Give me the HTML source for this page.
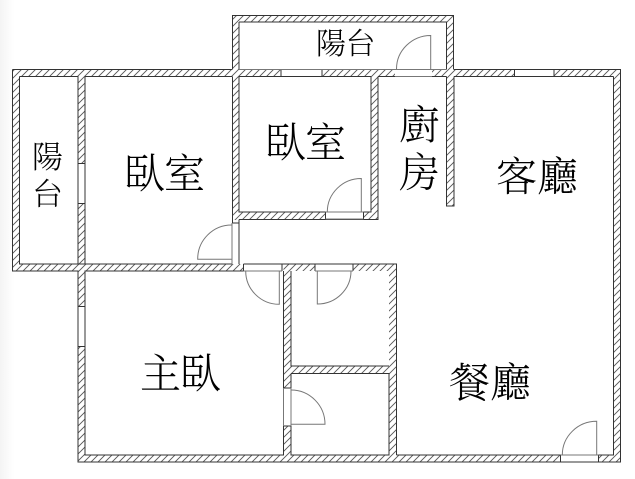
<!DOCTYPE html>
<html><head><meta charset="utf-8"><style>
html,body{margin:0;padding:0;background:#fff;width:635px;height:479px;overflow:hidden}
svg{display:block;filter:blur(.3px)}
text{font-family:"Liberation Serif","Noto Serif CJK SC","Noto Sans CJK TC",serif;fill:#000;font-weight:300}
</style></head><body>
<svg width="635" height="479" viewBox="0 0 635 479" xmlns="http://www.w3.org/2000/svg">
<defs>
<linearGradient id="g" x1="0" x2="1" y1="0" y2="0"><stop offset="0" stop-color="#f4f4f4"/><stop offset="1" stop-color="#fff"/></linearGradient>
<pattern id="h" width="7" height="7" patternUnits="userSpaceOnUse">
<rect width="7" height="7" fill="#fff"/>
<path d="M-1 1L1 -1M0 7L7 0M6 8L8 6" stroke="#555" stroke-width="0.9" fill="none"/>
</pattern>
</defs>
<rect width="635" height="479" fill="#fff"/>
<rect width="14" height="479" fill="url(#g)"/>
<g fill="url(#h)">
<rect x="12.5" y="69.5" width="608" height="7"/>
<rect x="12.5" y="69.5" width="7" height="201.5"/>
<rect x="78" y="69.5" width="7" height="392.5"/>
<rect x="232" y="15" width="7" height="205"/>
<rect x="232" y="15" width="222" height="7"/>
<rect x="446.5" y="15" width="7.5" height="191"/>
<rect x="613.5" y="69.5" width="7" height="392.5"/>
<rect x="78" y="455" width="542.5" height="7"/>
<rect x="12.5" y="264" width="231" height="7"/>
<rect x="232" y="212" width="146" height="7.5"/>
<rect x="371" y="69.5" width="7" height="150"/>
<rect x="283.5" y="264" width="113" height="7"/>
<rect x="283.5" y="264" width="7.5" height="198"/>
<rect x="389" y="264" width="7.5" height="198"/>
<rect x="291" y="366" width="98" height="7.5"/>
</g>
<!-- openings -->
<g fill="#fff" stroke="none">
<rect x="281" y="69.5" width="41" height="7"/>
<rect x="395" y="69.5" width="37" height="7"/>
<rect x="514.5" y="69.5" width="39.5" height="7"/>
<rect x="78" y="163.5" width="7" height="40"/>
<rect x="78" y="306.5" width="7" height="40"/>
<rect x="232" y="223" width="7" height="41"/>
<rect x="325.5" y="212" width="38" height="7.5"/>
<rect x="243.5" y="263.5" width="38.5" height="7.5"/>
<rect x="315" y="263.5" width="38" height="7.5"/>
<rect x="283.5" y="388" width="7.5" height="38"/>
<rect x="561" y="455" width="37.5" height="7"/>
</g>
<!-- dark lines -->
<g stroke="#333" stroke-width="1" fill="none">
<path d="M85 76.5H232M239 76.5H371M378 76.5H446.5M454 76.5H613.5"/>
<path d="M19.5 76.5V264H78V76.5H19.5M85 76.5V264H232"/>
<path d="M232.5 76.5V223"/>
<path d="M239 76.5V212H371V76.5"/>
<path d="M239 22H446.5V69.5M239 22V69.5"/>
<path d="M12.5 69.5V271H78V462H620.5V69.5H454"/>
<path d="M232.5 69.5V15.5H453.5V69.5M12.5 69.5H232"/>
<path d="M239 219.5V264M232 264H78"/>
<path d="M243.5 264H396.5V455M291 271V366H389M291 373.5H389V455H291V373.5M283.5 271V388M283.5 426V455H85V271H243.5"/>
<path d="M396.5 455H613.5V76.5"/>
<path d="M378 76.5V219.5H239M446.5 76.5V206H454V76.5"/>
<path d="M281 69.5V76.5M322 69.5V76.5M514.5 69.5V76.5M554 69.5V76.5M78 163.5H85M78 203.5H85M78 306.5H85M78 346.5H85"/>
<path d="M232.5 223H239M243.5 264V271M282 264V271M315 264V271M353 264V271M283.5 388H291M283.5 426H291M560.5 455V462M598.5 455V462M325.5 212V219.5M363.5 212V219.5"/>
</g>
<!-- door lines -->
<g stroke="#777" stroke-width="1" fill="none">
<path d="M239 69.5H446.5"/>
<path d="M395 69.5H432M395 76.5H432"/>
<path d="M325.5 212H363.5M325.5 219H363.5"/>
<path d="M243.5 271H282M315 271H353"/>
<path d="M560.5 455H598.5"/>
<path d="M232 223V264M283.5 388V426M291 388V426"/>
<path d="M430.7 69V35.5A34.5 33.5 0 0 0 396.5 69"/>
<path d="M361.3 212V178.5A34 33.5 0 0 0 327.3 212"/>
<path d="M231.7 225A34 34 0 0 0 197.7 259.3H231.7"/>
<path d="M245.7 271A33.6 33.3 0 0 0 279.3 304.3V271"/>
<path d="M317.3 271V304A33.7 33 0 0 0 351 271"/>
<path d="M291 390A34 34.3 0 0 1 325 424.3H291"/>
<path d="M596.7 455V421.3A34.4 33.7 0 0 0 562.3 455"/>
</g>
<text font-size="30" x="316" y="54">陽</text><text font-size="30" x="345.5" y="54">台</text>
<text font-size="31" x="32" y="168">陽</text><text font-size="31" x="32" y="205">台</text>
<text font-size="41" x="124" y="188">臥</text><text font-size="41" x="164" y="188">室</text>
<text font-size="41" x="265" y="157">臥</text><text font-size="41" x="305" y="157">室</text>
<text font-size="41" x="399" y="139">廚</text><text font-size="41" x="399" y="187">房</text>
<text font-size="41" x="496" y="191">客</text><text font-size="41" x="537" y="191">廳</text>
<text font-size="41" x="140" y="388">主</text><text font-size="41" x="180" y="388">臥</text>
<text font-size="41" x="449" y="397">餐</text><text font-size="41" x="490" y="397">廳</text>
</svg>
</body></html>
